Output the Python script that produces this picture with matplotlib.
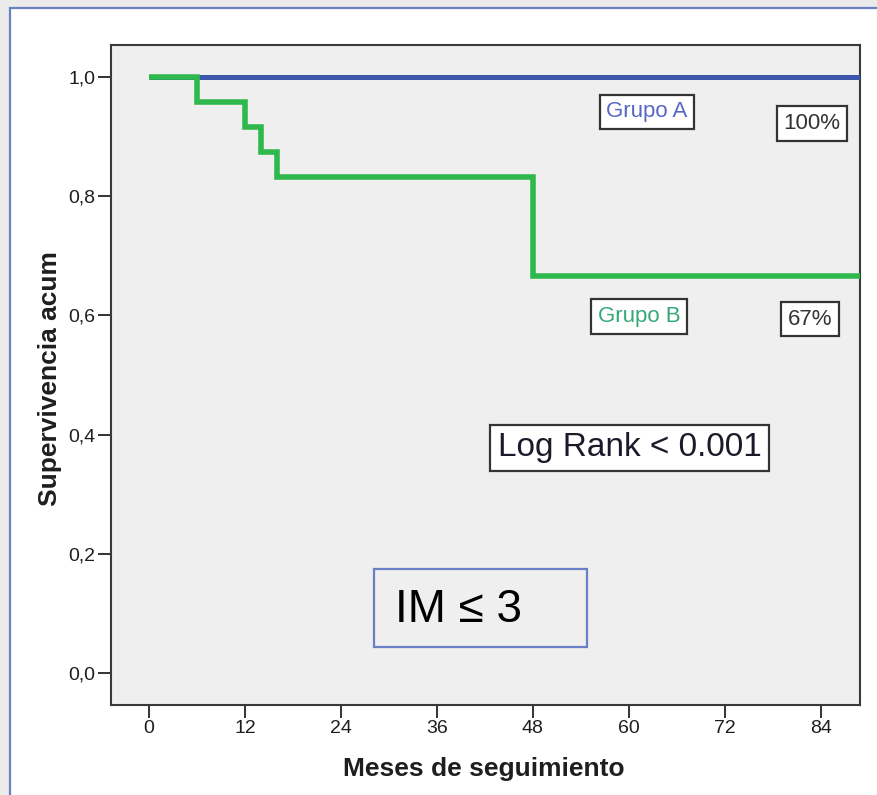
import matplotlib
matplotlib.use("Agg")
import matplotlib.pyplot as plt
from matplotlib.patches import Rectangle

plt.rcParams['font.family'] = ['Liberation Sans', 'DejaVu Sans']

# Kaplan-Meier estimates (months of follow-up, cumulative survival)
group_a_times = [0, 90]
group_a_surv = [1.0, 1.0]

group_b_times = [0, 6, 12, 14, 16, 48, 90]
group_b_surv = [1.0, 0.958, 0.917, 0.875, 0.833, 0.667, 0.667]

x_ticks = [0, 12, 24, 36, 48, 60, 72, 84]
y_ticks = [0.0, 0.2, 0.4, 0.6, 0.8, 1.0]
y_tick_labels = ["0,0", "0,2", "0,4", "0,6", "0,8", "1,0"]

label_a = "Grupo A"
label_b = "Grupo B"
final_a = "100%"
final_b = "67%"
test_text = "Log Rank < 0.001"
subgroup_text = "IM \u2264 3"

W, H = 877, 795
fig = plt.figure(figsize=(W / 100, H / 100), dpi=100, facecolor='#ebebeb')

# white slide panel with blue border
fig.patches.append(Rectangle((10 / W, -0.05), 1.2, 1 - 8 / H + 0.05,
                             transform=fig.transFigure, facecolor='white',
                             edgecolor='#6b80c4', linewidth=1.6, zorder=-5))

ax = fig.add_axes([111 / W, 1 - 705 / H, 749 / W, 660 / H])
ax.set_zorder(2)
ax.set_facecolor('#efefef')

blue = '#3c55ad'
green = '#2fb84b'
ax.plot(group_a_times, group_a_surv, drawstyle='steps-post', color=blue,
        linewidth=3.6, solid_capstyle='butt', zorder=3)
ax.plot(group_b_times, group_b_surv, drawstyle='steps-post', color=green,
        linewidth=4.0, solid_capstyle='butt', solid_joinstyle='miter', zorder=4)

ax.set_xlim(-4.75, 88.9)
ax.set_ylim(-0.054, 1.054)
ax.set_xticks(x_ticks)
ax.set_xticklabels([str(t) for t in x_ticks])
ax.set_yticks(y_ticks)
ax.set_yticklabels(y_tick_labels)
ax.tick_params(axis='both', direction='out', length=9.5, width=1.4,
               color='#333333', labelsize=14, labelcolor='#1e1e1e', pad=1.5)

for s in ax.spines.values():
    s.set_color('#3a3a3a')
    s.set_linewidth(1.5)

ax.set_xlabel("Meses de seguimiento", fontsize=19, fontweight='bold', color='#1e1e1e')
ax.set_ylabel("Supervivencia acum", fontsize=19, fontweight='bold', color='#1e1e1e')
ax.xaxis.label.set_va('center')
ax.yaxis.label.set_va('center')
ax.xaxis.set_label_coords(0.498, -0.097)
ax.yaxis.set_label_coords(-0.0814, 0.495)

box = dict(boxstyle='square,pad=0.3', facecolor='white', edgecolor='#333333', linewidth=1.6)
ax.text(62.25, 0.942, label_a, color='#5668c4', fontsize=16, ha='center', va='center', bbox=box, zorder=5)
ax.text(82.9, 0.922, final_a, color='#333333', fontsize=16, ha='center', va='center', bbox=box, zorder=5)
ax.text(61.25, 0.598, label_b, color='#35a878', fontsize=16, ha='center', va='center', bbox=box, zorder=5)
ax.text(82.7, 0.594, final_b, color='#333333', fontsize=16, ha='center', va='center', bbox=box, zorder=5)
ax.text(60.1, 0.378, test_text, color='#1a1a2a', fontsize=24, ha='center', va='center',
        bbox=dict(boxstyle='square,pad=0.22', facecolor='white', edgecolor='#333333', linewidth=1.6), zorder=5)

ax.add_patch(Rectangle((0.351, 0.0879), 0.2845, 0.1181, transform=ax.transAxes,
                       facecolor='none', edgecolor='#6b80c4', linewidth=1.6, zorder=5))
ax.text(0.379, 0.144, subgroup_text, transform=ax.transAxes, color='black',
        fontsize=33, ha='left', va='center', zorder=5)

fig.savefig("out.png", dpi=100, facecolor=fig.get_facecolor())
